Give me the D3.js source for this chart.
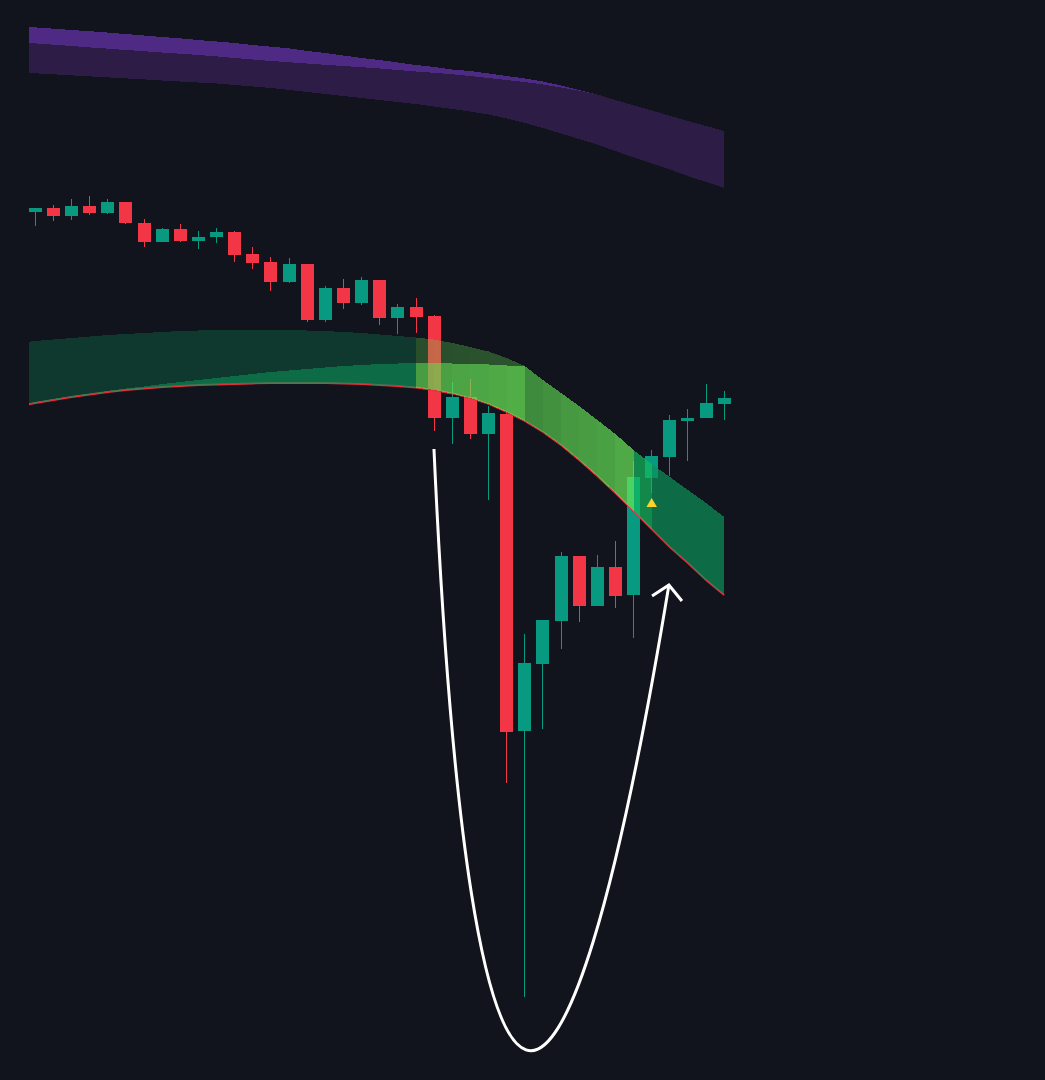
<!DOCTYPE html>
<html><head><meta charset="utf-8">
<script src="https://cdn.jsdelivr.net/npm/d3@7"></script>
<style>html,body{margin:0;padding:0;background:#11141c;overflow:hidden}</style>
</head><body><svg id="chart" width="1045" height="1080"></svg>
<script>
// ---------- DATA ----------
const bars = d3.range(39);
const open  = [99.40,99.60,99.20,99.70,99.35,99.90,98.85,97.90,98.55,97.95,98.15,98.40,97.30,96.90,95.90,96.80,94.00,95.60,94.85,96.00,94.10,94.65,94.20,89.10,90.15,88.30,89.30,73.45,76.80,78.95,82.20,79.70,81.65,80.25,86.10,87.15,88.95,89.10,89.80];
const high  = [99.60,99.75,100.05,100.20,100.05,99.90,99.05,98.60,98.80,98.45,98.60,98.45,97.65,97.15,97.10,96.80,95.70,96.05,96.15,96.00,94.80,95.10,94.25,90.90,91.05,89.70,89.45,78.30,79.00,82.40,82.20,82.25,82.95,86.95,87.50,89.25,89.55,90.80,90.45];
const low   = [98.70,98.95,99.00,99.25,99.30,98.80,97.65,97.90,97.90,97.55,97.85,96.90,96.55,95.45,95.85,93.90,93.90,94.55,94.75,93.75,93.30,93.35,88.45,87.80,88.05,85.00,70.85,60.15,73.55,77.55,78.90,79.70,79.60,78.10,85.35,86.20,86.95,89.10,89.00];
const close = [99.60,99.20,99.70,99.35,99.90,98.85,97.90,98.55,97.95,98.15,98.40,97.25,96.85,95.90,96.80,94.00,95.60,94.85,96.00,94.10,94.65,94.15,89.10,90.15,88.30,89.35,73.40,76.85,79.00,82.20,79.70,81.65,80.20,86.15,87.20,89.00,89.10,89.85,90.10];

// band series, one value per bar from index -1 to 38
const bandIndex = d3.range(-1, 39);
const cloudTop  = [92.85,92.95,93.025,93.1,93.175,93.25,93.3,93.35,93.4,93.45,93.475,93.5,93.515,93.525,93.515,93.5,93.475,93.45,93.4,93.35,93.275,93.2,93.125,93.025,92.85,92.65,92.425,92.1,91.7,91.0,90.35,89.7,89.0,88.3,87.5,86.8,86.15,85.5,84.85,84.15];
const cloudMid  = [89.7,89.9,90.05,90.2,90.325,90.45,90.575,90.675,90.8,90.9,91.0,91.1,91.2,91.3,91.4,91.475,91.55,91.625,91.7,91.75,91.8,91.825,91.85,91.85,91.825,91.8,91.775,91.725,91.7,91.0,90.35,89.7,89.0,88.3,87.5,86.8,86.15,85.5,84.85,84.15];
const cloudBase = [89.675,89.85,90.0,90.15,90.275,90.4,90.5,90.575,90.65,90.7,90.75,90.775,90.8,90.825,90.85,90.85,90.85,90.85,90.825,90.8,90.75,90.7,90.625,90.5,90.325,90.1,89.8,89.4,88.95,88.4,87.75,87.0,86.2,85.35,84.45,83.55,82.65,81.85,81.0,80.25];
// cloud tone for the segment starting at each bar: 0 = base, >0 = surge strength, -1 = flip
const cloudStrength = [0,0,0,0,0,0,0,0,0,0,0,0,0,0,0,0,0,0,0,0,0,0,0.5,0.62,0.72,0.78,0.88,1.0,0.05,0.2,0.4,0.5,0.65,0.85,-1,0,0,0,0,0];

const ribbonTop  = [108.7,108.63,108.565,108.5,108.44,108.37,108.3,108.225,108.15,108.08,108.0,107.925,107.85,107.75,107.665,107.58,107.45,107.35,107.225,107.1,107.0,106.875,106.75,106.65,106.525,106.45,106.325,106.2,106.075,105.925,105.725,105.5,105.275,105.0,104.735,104.475,104.21,103.95,103.7,103.45];
const ribbonMid  = [107.9,107.83,107.765,107.7,107.63,107.57,107.5,107.44,107.375,107.315,107.25,107.18,107.1,107.025,106.95,106.89,106.825,106.76,106.7,106.64,106.575,106.5,106.425,106.36,106.29,106.2,106.1,106.0,105.9,105.775,105.625,105.46,105.275,105.0,104.735,104.475,104.21,103.95,103.7,103.45];
const ribbonBase = [106.375,106.335,106.285,106.23,106.18,106.13,106.08,106.03,105.975,105.925,105.875,105.825,105.75,105.675,105.6,105.5,105.4,105.3,105.2,105.1,105.0,104.9,104.8,104.675,104.55,104.425,104.275,104.075,103.85,103.6,103.325,103.05,102.775,102.45,102.125,101.825,101.525,101.2,100.9,100.6];

const buySignals = [34];
// annotation arrow (bar index, price)
const arrowCurve = [[21.99,87.55],[23.98,48.0],[29.22,49.25],[34.95,80.75]];
const arrowHead  = [[34.02,80.2],[34.95,80.75],[35.67,79.95]];

// ---------- CHART ----------
const W = 1045, H = 1080;
const svg = d3.select('#chart');
const x = d3.scaleLinear().domain([0, 38]).range([35.3, 724.2]);
const y = d3.scaleLinear().domain([110, 56]).range([0, 1080]);
const bodyW = 13;

svg.append('rect').attr('width', W).attr('height', H).attr('fill', '#11141c');

const leftEdge = Math.round(x(0) - bodyW / 2);
svg.append('defs').append('clipPath').attr('id', 'plotClip')
  .append('rect').attr('x', leftEdge).attr('y', 0).attr('width', W - leftEdge).attr('height', H);

const band = bandIndex.map((b, k) => ({
  i: b, a: cloudTop[k], m: cloudMid[k], c: cloudBase[k],
  pt: ribbonTop[k], pm: ribbonMid[k], pb: ribbonBase[k], s: cloudStrength[k]
}));

// purple ribbon
const gRib = svg.append('g').attr('clip-path', 'url(#plotClip)');
gRib.append('path').datum(band)
  .attr('d', d3.area().x(d => x(d.i)).y0(d => y(d.pm)).y1(d => y(d.pt)))
  .attr('fill', '#4e2a84').attr('shape-rendering', 'crispEdges');
gRib.append('path').datum(band)
  .attr('d', d3.area().x(d => x(d.i)).y0(d => y(d.pb)).y1(d => y(d.pm)))
  .attr('fill', '#2d1d46').attr('shape-rendering', 'crispEdges');

// candles
const up = '#089981', down = '#f23645';
const candles = bars.map(i => ({ i, o: open[i], h: high[i], l: low[i], c: close[i] }));
const gC = svg.append('g').attr('shape-rendering', 'crispEdges');
candles.forEach(d => {
  const col = d.c >= d.o ? up : down;
  const left = Math.round(x(d.i) - bodyW / 2);
  const yh = Math.round(y(d.h)), yl = Math.round(y(d.l));
  gC.append('rect').attr('x', left + 6).attr('y', yh).attr('width', 1).attr('height', Math.max(1, yl - yh)).attr('fill', col);
  const yt = Math.round(y(Math.max(d.o, d.c))), yb = Math.round(y(Math.min(d.o, d.c)));
  gC.append('rect').attr('x', left).attr('y', yt).attr('width', bodyW).attr('height', Math.max(2, yb - yt)).attr('fill', col);
});

// cloud
const gCloud = svg.append('g').attr('clip-path', 'url(#plotClip)');
gCloud.append('path').datum(band)
  .attr('d', d3.line().x(d => x(d.i)).y(d => y(d.c)))
  .attr('fill', 'none').attr('stroke', '#e0303c').attr('stroke-width', 1.8);

function toneColor(s) {
  if (s === 0) return '#0c9058';
  if (s < 0) return '#12bb5f';
  return d3.interpolateRgb('#52bb4b', '#6cf05a')(s);
}
// group consecutive segments with the same tone
const runs = [];
for (let k = 0; k < band.length - 1; k++) {
  const col = toneColor(band[k].s);
  const last = runs[runs.length - 1];
  if (last && last.col === col) last.end = k + 1;
  else runs.push({ col, start: k, end: k + 1 });
}
const upperArea = d3.area().x(d => x(d.i)).y0(d => y(d.m)).y1(d => y(d.a));
const lowerArea = d3.area().x(d => x(d.i)).y0(d => y(d.c)).y1(d => y(d.m));
runs.forEach(r => {
  const seg = band.slice(r.start, r.end + 1);
  gCloud.append('path').datum(seg).attr('d', upperArea)
    .attr('fill', r.col).attr('fill-opacity', 0.3).attr('shape-rendering', 'crispEdges');
  gCloud.append('path').datum(seg).attr('d', lowerArea)
    .attr('fill', r.col).attr('fill-opacity', 0.7).attr('shape-rendering', 'crispEdges');
});

// buy signal markers
svg.append('g').selectAll('path').data(buySignals).join('path')
  .attr('d', d3.symbol(d3.symbolTriangle, 48))
  .attr('transform', i => `translate(${x(i)},${y(low[i]) + 11})`)
  .attr('fill', '#fcd22a');

// annotation arrow
const p = d3.path();
const P = arrowCurve.map(([i, v]) => [x(i), y(v)]);
p.moveTo(P[0][0], P[0][1]);
p.bezierCurveTo(P[1][0], P[1][1], P[2][0], P[2][1], P[3][0], P[3][1]);
svg.append('path').attr('d', p.toString()).attr('fill', 'none')
  .attr('stroke', '#ffffff').attr('stroke-width', 3).attr('stroke-linecap', 'butt');
svg.append('path').datum(arrowHead)
  .attr('d', d3.line().x(d => x(d[0])).y(d => y(d[1])))
  .attr('fill', 'none').attr('stroke', '#ffffff').attr('stroke-width', 3)
  .attr('stroke-linejoin', 'miter').attr('stroke-linecap', 'butt');
</script>
</body></html>
